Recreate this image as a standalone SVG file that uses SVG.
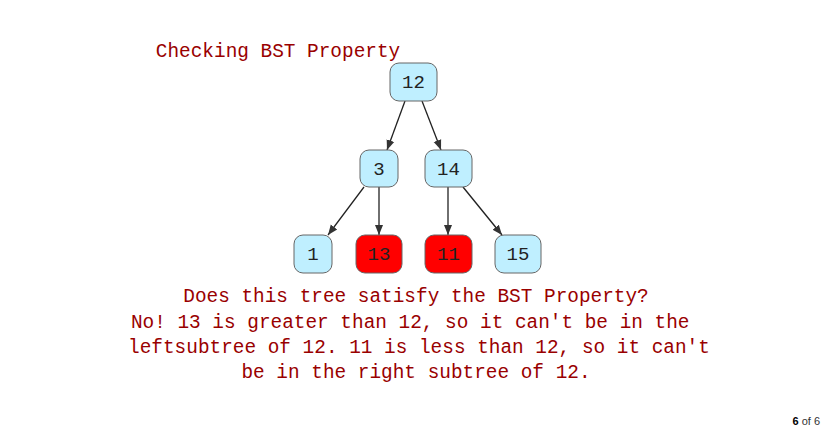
<svg xmlns="http://www.w3.org/2000/svg" width="822" height="430" viewBox="0 0 822 430">
<style>
.t{font-family:"Liberation Mono","Courier New",monospace;fill:#990000;font-size:19.4px;text-anchor:middle}
.n rect{fill:#bfefff;stroke:#666;stroke-width:1}
.n.red rect{fill:#ff0000}
.n text{font-family:"Liberation Mono","Courier New",monospace;font-size:19px;fill:#222;text-anchor:middle}
.e line{stroke:#222;stroke-width:1.3;marker-end:url(#ah)}
</style>
<defs>
<marker id="ah" viewBox="0 0 10 10" refX="10" refY="5" markerWidth="10" markerHeight="10" markerUnits="userSpaceOnUse" orient="auto">
<path d="M0,1 L10,5 L0,9 Z" fill="#333"/>
</marker>
</defs>
<rect width="822" height="430" fill="#fff"/>
<text class="t" x="278" y="57">Checking BST Property</text>
<g class="e">
<line x1="405" y1="101" x2="387" y2="150"/>
<line x1="422" y1="101" x2="441" y2="150"/>
<line x1="364" y1="187" x2="328" y2="235"/>
<line x1="379" y1="187" x2="379" y2="235"/>
<line x1="448" y1="187" x2="448" y2="235"/>
<line x1="463" y1="187" x2="502" y2="235"/>
</g>
<g id="n12" class="n"><rect x="390" y="63" width="47" height="38" rx="9"/><text x="413.5" y="88">12</text></g>
<g id="n3" class="n"><rect x="360" y="150" width="38" height="37" rx="9"/><text x="379" y="175">3</text></g>
<g id="n14" class="n"><rect x="425" y="150" width="47" height="37" rx="9"/><text x="448.5" y="175">14</text></g>
<g id="n1" class="n"><rect x="294" y="235" width="38" height="38" rx="9"/><text x="313" y="260">1</text></g>
<g id="n13" class="n red"><rect x="356" y="235" width="46" height="38" rx="9"/><text x="379" y="260">13</text></g>
<g id="n11" class="n red"><rect x="425" y="235" width="47" height="38" rx="9"/><text x="448.5" y="260">11</text></g>
<g id="n15" class="n"><rect x="495" y="235" width="46" height="38" rx="9"/><text x="518" y="260">15</text></g>
<text class="t" x="416" y="302">Does this tree satisfy the BST Property?</text>
<text class="t" x="416" y="328" xml:space="preserve">No! 13 is greater than 12, so it can't be in the </text>
<text class="t" x="419" y="353">leftsubtree of 12. 11 is less than 12, so it can't</text>
<text class="t" x="416" y="378">be in the right subtree of 12.</text>
<text x="820" y="425" text-anchor="end" font-family="Liberation Sans,Arial,sans-serif" font-size="11px" fill="#333"><tspan font-weight="bold" fill="#000">6</tspan> of 6</text>
</svg>
